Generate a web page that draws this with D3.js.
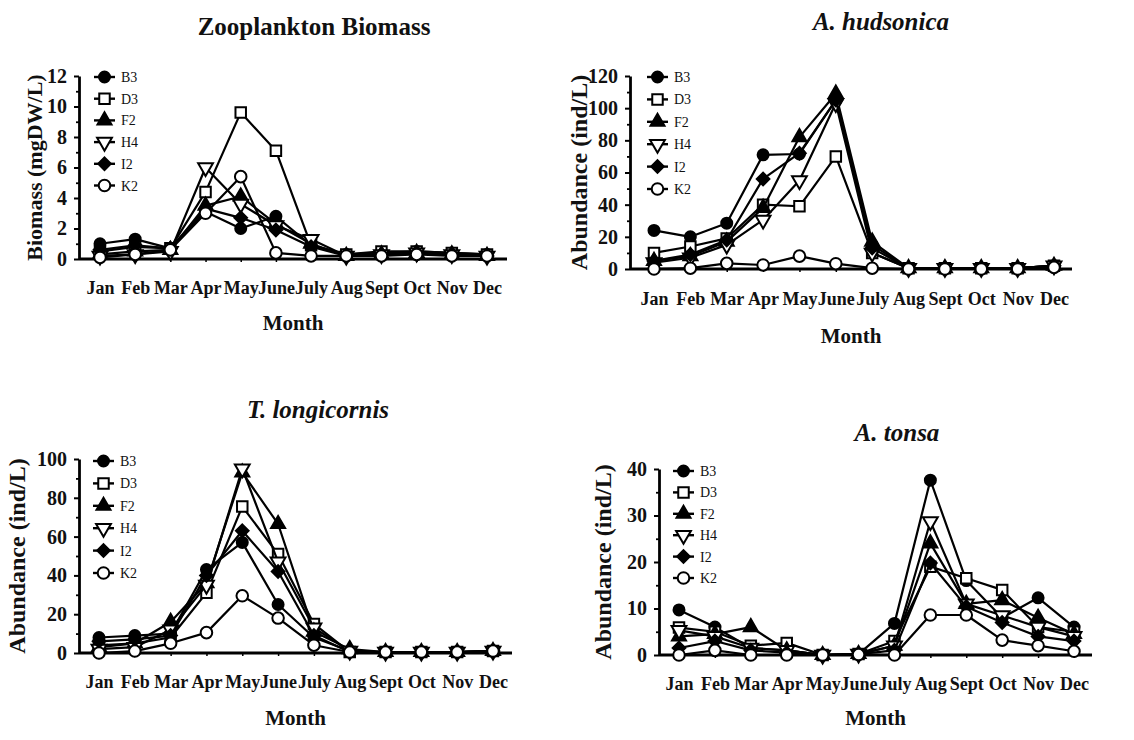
<!DOCTYPE html>
<html>
<head>
<meta charset="utf-8">
<script src="https://cdn.jsdelivr.net/npm/d3@7"></script>
<style>
  html, body { margin: 0; padding: 0; background: #fff; }
  svg { display: block; }
  text { font-family: "Liberation Serif", "Times New Roman", Times, serif; fill: #111; }
</style>
</head>
<body>
<svg id="chart" width="1134" height="740"></svg>
<script>
// Months and sampling stations
const months = ["Jan", "Feb", "Mar", "Apr", "May", "June", "July", "Aug", "Sept", "Oct", "Nov", "Dec"];
const stations = ["B3", "D3", "F2", "H4", "I2", "K2"];

// Zooplankton biomass (mgDW/L)
const biomassB3 = [1.0, 1.3, 0.7, 3.1, 2.0, 2.8, 0.9, 0.3, 0.4, 0.5, 0.4, 0.3];
const biomassD3 = [0.5, 0.8, 0.7, 4.4, 9.6, 7.1, 0.9, 0.3, 0.5, 0.5, 0.4, 0.3];
const biomassF2 = [0.3, 0.5, 0.6, 3.5, 4.1, 2.3, 1.0, 0.2, 0.3, 0.4, 0.3, 0.2];
const biomassH4 = [0.2, 0.3, 0.5, 6.0, 3.6, 2.2, 1.3, 0.2, 0.3, 0.4, 0.3, 0.2];
const biomassI2 = [0.6, 0.9, 0.7, 3.3, 2.7, 1.9, 0.8, 0.2, 0.3, 0.4, 0.3, 0.2];
const biomassK2 = [0.1, 0.3, 0.6, 3.0, 5.4, 0.4, 0.2, 0.2, 0.2, 0.3, 0.2, 0.2];

// A. hudsonica abundance (ind/L)
const hudsonicaB3 = [24, 20, 28.5, 71, 71.5, 105, 15, 0.5, 0.5, 0.5, 0.5, 2];
const hudsonicaD3 = [10, 14, 19, 40, 39, 70, 10, 0.5, 0.5, 0.5, 0.5, 2];
const hudsonicaF2 = [5, 8, 17, 38, 82, 109, 17, 0.5, 0.5, 0.5, 0.5, 2];
const hudsonicaH4 = [4, 7, 15, 30.5, 55, 103, 10, 0.5, 0.5, 0.5, 0.5, 2];
const hudsonicaI2 = [5, 9, 18, 56, 72, 105, 13, 0.5, 0.5, 0.5, 0.5, 2];
const hudsonicaK2 = [0, 0.5, 3.5, 2.5, 8, 3.3, 0.5, 0, 0, 0, 0, 1];

// T. longicornis abundance (ind/L)
const longicornisB3 = [8, 9, 10, 43, 57, 25, 8, 1, 0.5, 0.5, 0.5, 1];
const longicornisD3 = [4, 5, 8, 31, 75.5, 51, 15, 0.5, 0.5, 0.5, 0.5, 1];
const longicornisF2 = [3, 5, 16, 36, 93, 66.5, 11, 2, 0.5, 0.5, 0.5, 1];
const longicornisH4 = [2, 3, 12, 35, 95, 47, 13, 1, 0.5, 0.5, 0.5, 1];
const longicornisI2 = [6, 7, 9, 40, 63, 42, 9, 0.5, 0.5, 0.5, 0.5, 1];
const longicornisK2 = [0, 1, 5, 10.5, 29.5, 18, 4, 0.5, 0.5, 0.5, 0.5, 1];

// A. tonsa abundance (ind/L)
const tonsaB3 = [9.7, 6, 1.5, 1, 0, 0.2, 6.8, 37.6, 16, 8, 12.3, 6];
const tonsaD3 = [5.9, 5, 2, 2.6, 0, 0.2, 3, 19, 16.5, 14, 6, 5];
const tonsaF2 = [4, 4.5, 6, 1, 0, 0.2, 2, 24, 11, 11.8, 8, 4.5];
const tonsaH4 = [5.3, 4, 1.5, 1, 0, 0.2, 2, 28.7, 11, 8.5, 6, 4];
const tonsaI2 = [1.5, 3, 1, 0.5, 0, 0.2, 1, 19.8, 10.4, 7, 4, 3];
const tonsaK2 = [0, 1, 0, 0, 0, 0.1, 0, 8.6, 8.6, 3.2, 2, 0.8];

const yTicksBiomass = [0, 2, 4, 6, 8, 10, 12];
const yTicksHudsonica = [0, 20, 40, 60, 80, 100, 120];
const yTicksLongicornis = [0, 20, 40, 60, 80, 100];
const yTicksTonsa = [0, 10, 20, 30, 40];

// Squat diamond (equal width and height)
const symbolRhombus = {
  draw(ctx, size) {
    const r = Math.sqrt(size / 2);
    ctx.moveTo(0, -r); ctx.lineTo(r, 0); ctx.lineTo(0, r); ctx.lineTo(-r, 0); ctx.closePath();
  }
};

// Marker styles per station: shape and fill
const markerStyle = {
  B3: { shape: d3.symbolCircle, fill: "#000", size: 95, rot: 0 },
  D3: { shape: d3.symbolSquare, fill: "#fff", size: 110, rot: 0 },
  F2: { shape: d3.symbolTriangle, fill: "#000", size: 85, rot: 0 },
  H4: { shape: d3.symbolTriangle, fill: "#fff", size: 95, rot: 180 },
  I2: { shape: symbolRhombus, fill: "#000", size: 80, rot: 0 },
  K2: { shape: d3.symbolCircle, fill: "#fff", size: 105, rot: 0 }
};

const svg = d3.select("#chart");

function drawMarker(g, st, x, y) {
  const m = markerStyle[st];
  g.append("path")
    .attr("d", d3.symbol().type(m.shape).size(m.size)())
    .attr("transform", `translate(${x},${y})` + (m.rot ? ` rotate(${m.rot})` : ""))
    .attr("fill", m.fill)
    .attr("stroke", "#000")
    .attr("stroke-width", 2);
}

function panel(cfg) {
  const g = svg.append("g");
  const x = d3.scalePoint().domain(months).range([cfg.jan, cfg.dec]);
  const y = d3.scaleLinear().domain([0, cfg.yTicks[cfg.yTicks.length - 1]]).range([cfg.bottom, cfg.top]);

  // Title
  g.append("text")
    .attr("x", cfg.titleX).attr("y", cfg.titleY)
    .attr("text-anchor", "middle")
    .style("font-size", "25px").style("font-weight", "bold")
    .style("font-style", cfg.italic ? "italic" : "normal")
    .text(cfg.title);

  // Y axis with major and minor ticks
  const step = cfg.yTicks[1] - cfg.yTicks[0];
  const minor = cfg.yTicks.slice(0, -1).map(v => v + step / 2);
  g.append("g")
    .attr("transform", `translate(${cfg.left},0)`)
    .call(d3.axisLeft(y).tickValues(minor).tickSize(3).tickFormat(""))
    .call(a => a.select(".domain").remove())
    .call(a => a.selectAll("line").attr("stroke", "#000").attr("stroke-width", 1.8));
  const ya = g.append("g")
    .attr("transform", `translate(${cfg.left},0)`)
    .call(d3.axisLeft(y).tickValues(cfg.yTicks).tickSize(5).tickSizeOuter(0).tickPadding(7));
  ya.select(".domain").attr("stroke", "#000").attr("stroke-width", 2.8);
  ya.selectAll("line").attr("stroke", "#000").attr("stroke-width", 2);
  ya.selectAll("text")
    .style("font-family", '"Liberation Serif", "Times New Roman", serif')
    .style("font-size", "20px").style("font-weight", "bold").attr("fill", "#111");

  // X axis
  const xa = g.append("g")
    .attr("transform", `translate(0,${cfg.bottom})`)
    .call(d3.axisBottom(x).tickSize(3).tickSizeOuter(0).tickPadding(cfg.xPad));
  xa.select(".domain").attr("d", `M${cfg.left},0H${cfg.right}`).attr("stroke", "#000").attr("stroke-width", 2.8);
  xa.selectAll("line").attr("stroke", "#000").attr("stroke-width", 1.5);
  xa.selectAll("text")
    .style("font-family", '"Liberation Serif", "Times New Roman", serif')
    .style("font-size", "18px").style("font-weight", "bold").attr("fill", "#111");

  // Axis titles
  g.append("text")
    .attr("x", (cfg.left + cfg.right) / 2).attr("y", cfg.monthY)
    .attr("text-anchor", "middle")
    .style("font-size", "21px").style("font-weight", "bold")
    .text("Month");
  g.append("text")
    .attr("transform", `translate(${cfg.yLabelX},${(cfg.top + cfg.bottom) / 2}) rotate(-90)`)
    .attr("text-anchor", "middle")
    .style("font-size", cfg.yLabelSize).style("font-weight", "bold")
    .text(cfg.yLabel);

  // Series lines and markers
  const line = d3.line().x((d, i) => x(months[i])).y(d => y(d));
  stations.forEach((st, k) => {
    const vals = cfg.series[k];
    g.append("path")
      .datum(vals)
      .attr("d", line)
      .attr("fill", "none")
      .attr("stroke", "#000")
      .attr("stroke-width", 2.2)
      .attr("stroke-linejoin", "round");
    vals.forEach((v, i) => drawMarker(g, st, x(months[i]), y(v)));
  });

  // Legend
  stations.forEach((st, k) => {
    const ly = cfg.legY + k * cfg.legStep;
    g.append("line")
      .attr("x1", cfg.legX).attr("x2", cfg.legX + 21)
      .attr("y1", ly).attr("y2", ly)
      .attr("stroke", "#000").attr("stroke-width", 2.4);
    drawMarker(g, st, cfg.legX + 10.5, ly);
    g.append("text")
      .attr("x", cfg.legX + 27).attr("y", ly + 5)
      .style("font-size", "14px")
      .text(st);
  });
}

panel({
  title: "Zooplankton Biomass", italic: false, titleX: 314, titleY: 35,
  yLabel: "Biomass (mgDW/L)", yLabelX: 42, yLabelSize: "22px",
  left: 79, right: 507, top: 76, bottom: 259, jan: 100, dec: 487,
  yTicks: yTicksBiomass, xPad: 19, monthY: 330,
  legX: 94, legY: 77, legStep: 21.7,
  series: [biomassB3, biomassD3, biomassF2, biomassH4, biomassI2, biomassK2]
});

panel({
  title: "A. hudsonica", italic: true, titleX: 881, titleY: 30,
  yLabel: "Abundance (ind/L)", yLabelX: 587, yLabelSize: "24px",
  left: 630, right: 1072, top: 76, bottom: 269, jan: 654, dec: 1054,
  yTicks: yTicksHudsonica, xPad: 20, monthY: 343,
  legX: 647, legY: 77, legStep: 22.4,
  series: [hudsonicaB3, hudsonicaD3, hudsonicaF2, hudsonicaH4, hudsonicaI2, hudsonicaK2]
});

panel({
  title: "T. longicornis", italic: true, titleX: 318, titleY: 418,
  yLabel: "Abundance (ind/L)", yLabelX: 25, yLabelSize: "24px",
  left: 79, right: 512, top: 459, bottom: 653, jan: 99, dec: 493,
  yTicks: yTicksLongicornis, xPad: 19, monthY: 725,
  legX: 93, legY: 461, legStep: 22.4,
  series: [longicornisB3, longicornisD3, longicornisF2, longicornisH4, longicornisI2, longicornisK2]
});

panel({
  title: "A. tonsa", italic: true, titleX: 897, titleY: 441,
  yLabel: "Abundance (ind/L)", yLabelX: 611, yLabelSize: "24px",
  left: 659, right: 1092, top: 469, bottom: 655, jan: 679, dec: 1074,
  yTicks: yTicksTonsa, xPad: 19, monthY: 725,
  legX: 673, legY: 471, legStep: 21.4,
  series: [tonsaB3, tonsaD3, tonsaF2, tonsaH4, tonsaI2, tonsaK2]
});
</script>
</body>
</html>
